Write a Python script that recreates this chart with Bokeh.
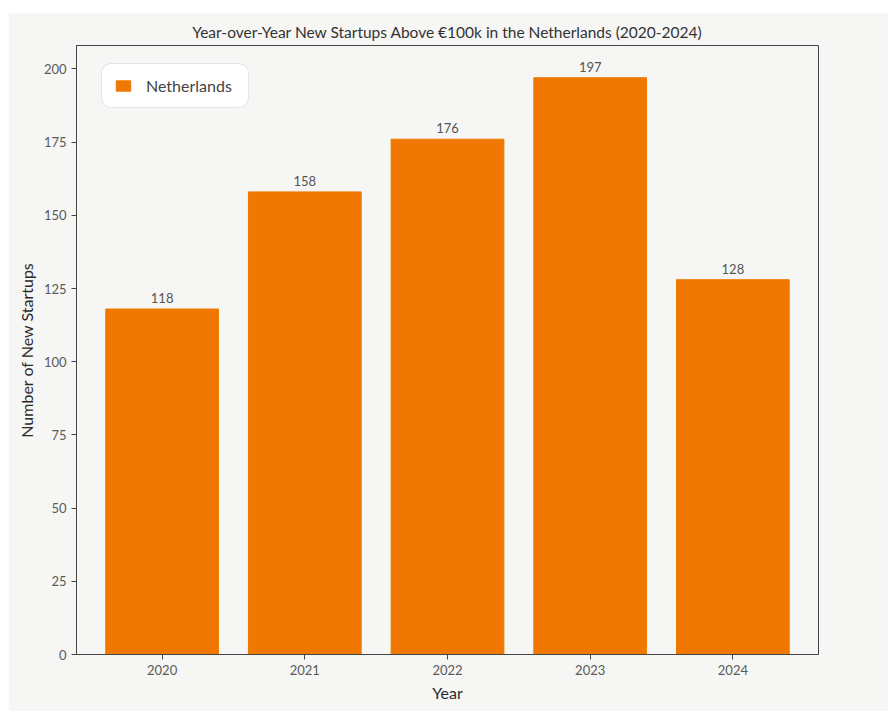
from bokeh.plotting import figure
from bokeh.models import ColumnDataSource, Range1d, FixedTicker, LabelSet
from bokeh.core.properties import value
from bokeh.embed import file_html
from bokeh.resources import INLINE

years = [2020, 2021, 2022, 2023, 2024]
startups = [118, 158, 176, 197, 128]
labels = [str(v) for v in startups]
year_ticks = [2020, 2021, 2022, 2023, 2024]
y_ticks = [0, 25, 50, 75, 100, 125, 150, 175, 200]

FONT = "Lato"
BG = "#f6f6f4"
ORANGE = "#f07800"

src = ColumnDataSource(dict(x=years, top=startups, label=labels))

p = figure(width=880, height=699, output_backend="svg", toolbar_location=None,
           x_range=Range1d(2019.4, 2024.6), y_range=Range1d(0, 208),
           title="Year-over-Year New Startups Above €100k in the Netherlands (2020-2024)")
p.margin = (12, 0, 0, 8)
p.min_border_left = 68
p.min_border_right = 70
p.min_border_top = 33
p.min_border_bottom = 57
p.background_fill_color = BG
p.border_fill_color = BG
p.outline_line_color = "#444444"
p.outline_line_width = 1

p.title.text_font = FONT
p.title.text_font_size = "15.5px"
p.title.text_font_style = "normal"
p.title.text_color = "#333333"
p.title.align = "center"
p.title.standoff = 10

p.vbar(x="x", top="top", width=0.79, source=src, color=ORANGE, legend_label="Netherlands")

lbl = LabelSet(x="x", y="top", text="label", source=src, text_align="center",
               text_baseline="bottom", y_offset=6, text_font=value(FONT),
               text_font_size=value("13px"), text_color=value("#555555"))
p.add_layout(lbl)

p.xgrid.visible = False
p.ygrid.visible = False

p.xaxis.ticker = FixedTicker(ticks=year_ticks)
p.yaxis.ticker = FixedTicker(ticks=y_ticks)
p.xaxis.minor_tick_line_color = None
p.yaxis.minor_tick_line_color = None
for ax in (p.xaxis, p.yaxis):
    ax.axis_line_color = "#444444"
    ax.major_tick_line_color = "#444444"
    ax.major_tick_out = 5
    ax.major_tick_in = 0
    ax.major_label_text_font = FONT
    ax.major_label_text_font_size = "13px"
    ax.major_label_text_color = "#5a5a5a"
    ax.axis_label_text_font = FONT
    ax.axis_label_text_font_size = "16px"
    ax.axis_label_text_font_style = "normal"
    ax.axis_label_text_color = "#2a2a2a"
p.xaxis.axis_label = "Year"
p.yaxis.axis_label = "Number of New Startups"

p.legend.location = (25, 546)
p.legend.margin = 0
p.legend.padding = 12
p.legend.label_width = 90
p.legend.label_standoff = 14
p.legend.border_line_color = "#cccccc"
p.legend.border_radius = 10
p.legend.background_fill_color = "white"
p.legend.background_fill_alpha = 1
p.legend.label_text_font = FONT
p.legend.label_text_font_size = "16px"
p.legend.label_text_color = "#444444"
p.legend.glyph_width = 18
p.legend.glyph_height = 13

open("out.html", "w").write(file_html(p, INLINE))
